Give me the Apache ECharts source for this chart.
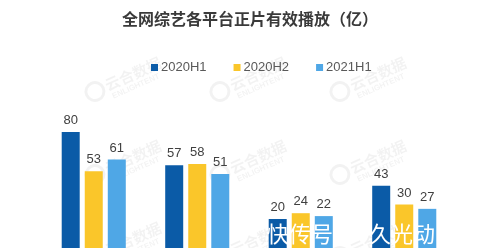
<!DOCTYPE html>
<html>
<head>
<meta charset="utf-8">
<script src="https://cdn.jsdelivr.net/npm/echarts@6/dist/echarts.min.js"></script>
<style>html,body{margin:0;padding:0;background:#fff;}#c{width:500px;height:248px;}</style>
</head>
<body>
<div id="c"></div>
<script>
var categories = ['爱奇艺', '腾讯视频', '优酷', '芒果TV'];
var seriesNames = ['2020H1', '2020H2', '2021H1'];
var s2020H1 = [80, 57, 20, 43];
var s2020H2 = [53, 58, 24, 30];
var s2021H1 = [61, 51, 22, 27];
var colors = ['#0B5BA7', '#FAC62A', '#4FA7E6'];

var chart = echarts.init(document.getElementById('c'), null, {renderer: 'canvas'});

var wm = [];
var cols = [127, 252, 372];
var rows = [75, 158, 240];
var wc = 'rgba(0,0,0,0.05)';
rows.forEach(function (y) {
  cols.forEach(function (x) {
    wm.push({
      type: 'group', x: x, y: y, rotation: 0.42, z: 50, silent: true,
      children: [
        {type: 'circle', shape: {cx: -36, cy: 2, r: 9}, style: {fill: 'none', stroke: wc, lineWidth: 3}},
        {type: 'text', x: -24, y: -6, style: {text: '云合数据', font: 'bold 15px "Noto Sans CJK SC"', fill: wc}},
        {type: 'text', x: -22, y: 10, style: {text: 'ENLIGHTENT', font: 'bold 8px "Liberation Sans"', fill: wc}}
      ]
    });
  });
});
wm.push({type: 'text', left: 267, top: 223, z: 100, silent: true,
  style: {text: '快传号', font: '22px "Noto Sans CJK SC"', fill: '#fff', shadowColor: 'rgba(0,0,0,0.35)', shadowBlur: 2}});
wm.push({type: 'text', left: 369, top: 223, z: 100, silent: true,
  style: {text: '久光动', font: '22px "Noto Sans CJK SC"', fill: '#fff', shadowColor: 'rgba(0,0,0,0.35)', shadowBlur: 2}});

function mk(name, data, color) {
  return {
    name: name, type: 'bar', data: data, barWidth: 18, barGap: '28%',
    itemStyle: {color: color},
    label: {show: true, position: 'top', distance: 5, color: '#404040', fontSize: 13, fontFamily: 'Liberation Sans'}
  };
}

chart.setOption({
  animation: false,
  title: {
    text: '全网综艺各平台正片有效播放（亿）', left: 'center', top: 6,
    textStyle: {fontSize: 16, fontWeight: 'bold', color: '#3a3a3a', fontFamily: 'Noto Sans CJK SC'}
  },
  legend: {
    data: seriesNames, top: 56, left: 146, itemWidth: 7, itemHeight: 7, itemGap: 27,
    icon: 'rect',
    textStyle: {fontSize: 13, color: '#595959', fontFamily: 'Liberation Sans', padding: [0, 0, 0, -2]}
  },
  grid: {left: 42, right: 44, top: 103, height: 150, containLabel: false},
  xAxis: {type: 'category', data: categories, axisTick: {show: false}, axisLine: {lineStyle: {color: '#d9d9d9'}}, axisLabel: {show: false}},
  yAxis: {type: 'value', min: 0, max: 100, show: false, splitLine: {show: false}},
  series: [mk(seriesNames[0], s2020H1, colors[0]), mk(seriesNames[1], s2020H2, colors[1]), mk(seriesNames[2], s2021H1, colors[2])],
  graphic: wm
});
</script>
</body>
</html>
